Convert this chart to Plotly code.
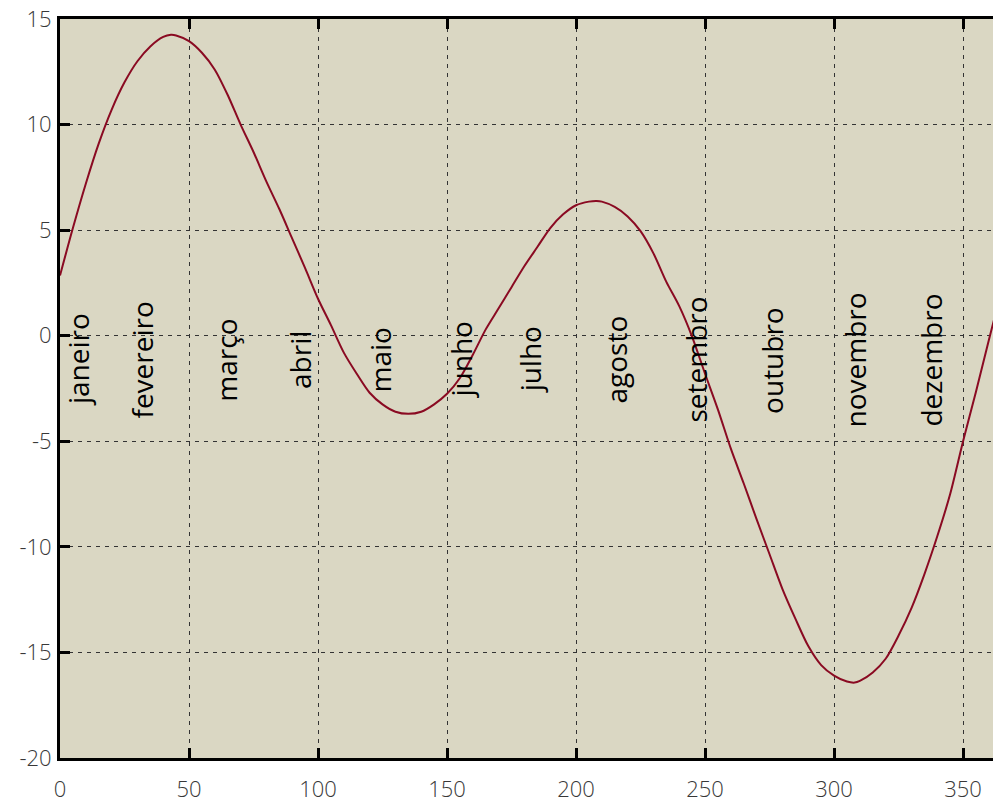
import plotly.graph_objects as go

# Equation of time (minutes), by day of year
days = [0, 5, 10, 15, 20, 25, 30, 35, 40, 43, 45, 50, 55, 60, 65, 70, 75, 80, 85, 90,
        95, 100, 105, 110, 115, 120, 125, 130, 135, 140, 145, 150, 155, 160, 165, 170,
        175, 180, 185, 190, 195, 200, 205, 208, 210, 215, 220, 225, 230, 235, 240, 245,
        250, 255, 260, 265, 270, 275, 280, 285, 290, 295, 300, 305, 308, 310, 315, 320,
        325, 330, 335, 340, 345, 350, 355, 360, 365]
minutes = [2.85, 5.1, 7.2, 9.1, 10.7, 12.0, 13.0, 13.7, 14.15, 14.25, 14.22, 13.95, 13.4,
           12.6, 11.4, 10.0, 8.7, 7.3, 6.0, 4.6, 3.2, 1.75, 0.5, -0.8, -1.8, -2.7, -3.25,
           -3.6, -3.7, -3.6, -3.25, -2.75, -2.0, -0.9, 0.3, 1.3, 2.3, 3.3, 4.2, 5.1, 5.75,
           6.18, 6.35, 6.38, 6.35, 6.1, 5.65, 4.95, 3.9, 2.55, 1.4, -0.05, -1.8, -3.5,
           -5.35, -7.0, -8.7, -10.35, -12.0, -13.4, -14.7, -15.6, -16.1, -16.38, -16.43,
           -16.35, -15.95, -15.3, -14.2, -12.9, -11.3, -9.5, -7.5, -5.0, -2.65, -0.2, 2.2]

months = ["janeiro", "fevereiro", "março", "abril", "maio", "junho", "julho",
          "agosto", "setembro", "outubro", "novembro", "dezembro"]
month_days = [7.0, 31.6, 64.2, 93.0, 124.2, 155.6, 182.3, 215.3, 246.3, 275.9, 308.3, 337.4]
month_label_y = -1.15

x_ticks = [0, 50, 100, 150, 200, 250, 300, 350]
x_tick_text = ["0", "50", "100", "150", "200", "250", "300", "350"]
y_ticks = [-20, -15, -10, -5, 0, 5, 10, 15]
y_tick_text = ["-20", "-15", "-10", "-5", "0", "5", "10", "15"]

fig = go.Figure()
fig.add_trace(go.Scatter(x=days, y=minutes, mode="lines",
                         line=dict(color="#8a0a22", width=2, shape="spline", smoothing=0.8),
                         showlegend=False, hoverinfo="skip"))

for name, d in zip(months, month_days):
    fig.add_annotation(x=d, y=month_label_y, text=name, textangle=-90, showarrow=False,
                       xref="x", yref="y", xanchor="center", yanchor="middle",
                       font=dict(family="Open Sans", size=28, color="#000000"))

tick_font = dict(family="Open Sans", size=22, color="#383838", weight=300)
fig.update_xaxes(range=[0, 361.6], tickvals=x_ticks, ticktext=x_tick_text,
                 ticks="inside", ticklen=10,
                 tickwidth=3, tickcolor="#000000", showline=True, linecolor="#000000",
                 linewidth=3, mirror="ticks", showgrid=True, gridcolor="#333333",
                 gridwidth=1, griddash="4px,5px", zeroline=False, tickfont=tick_font,
                 ticklabelstandoff=10)
fig.update_yaxes(range=[-20, 15], tickvals=y_ticks, ticktext=y_tick_text,
                 ticks="inside", ticklen=10,
                 tickwidth=3, tickcolor="#000000", showline=True, linecolor="#000000",
                 linewidth=3, mirror=False, showgrid=True, gridcolor="#333333",
                 gridwidth=1, griddash="4px,5px", zeroline=False, tickfont=tick_font,
                 ticklabelstandoff=1)

fig.update_layout(width=993, height=803, margin=dict(l=60, r=0, t=19, b=41),
                  plot_bgcolor="#dad7c3", paper_bgcolor="#ffffff")

fig.write_html("out.html", config={"displayModeBar": False},
               post_script="document.body.style.margin='0px';document.body.style.overflow='hidden';")
